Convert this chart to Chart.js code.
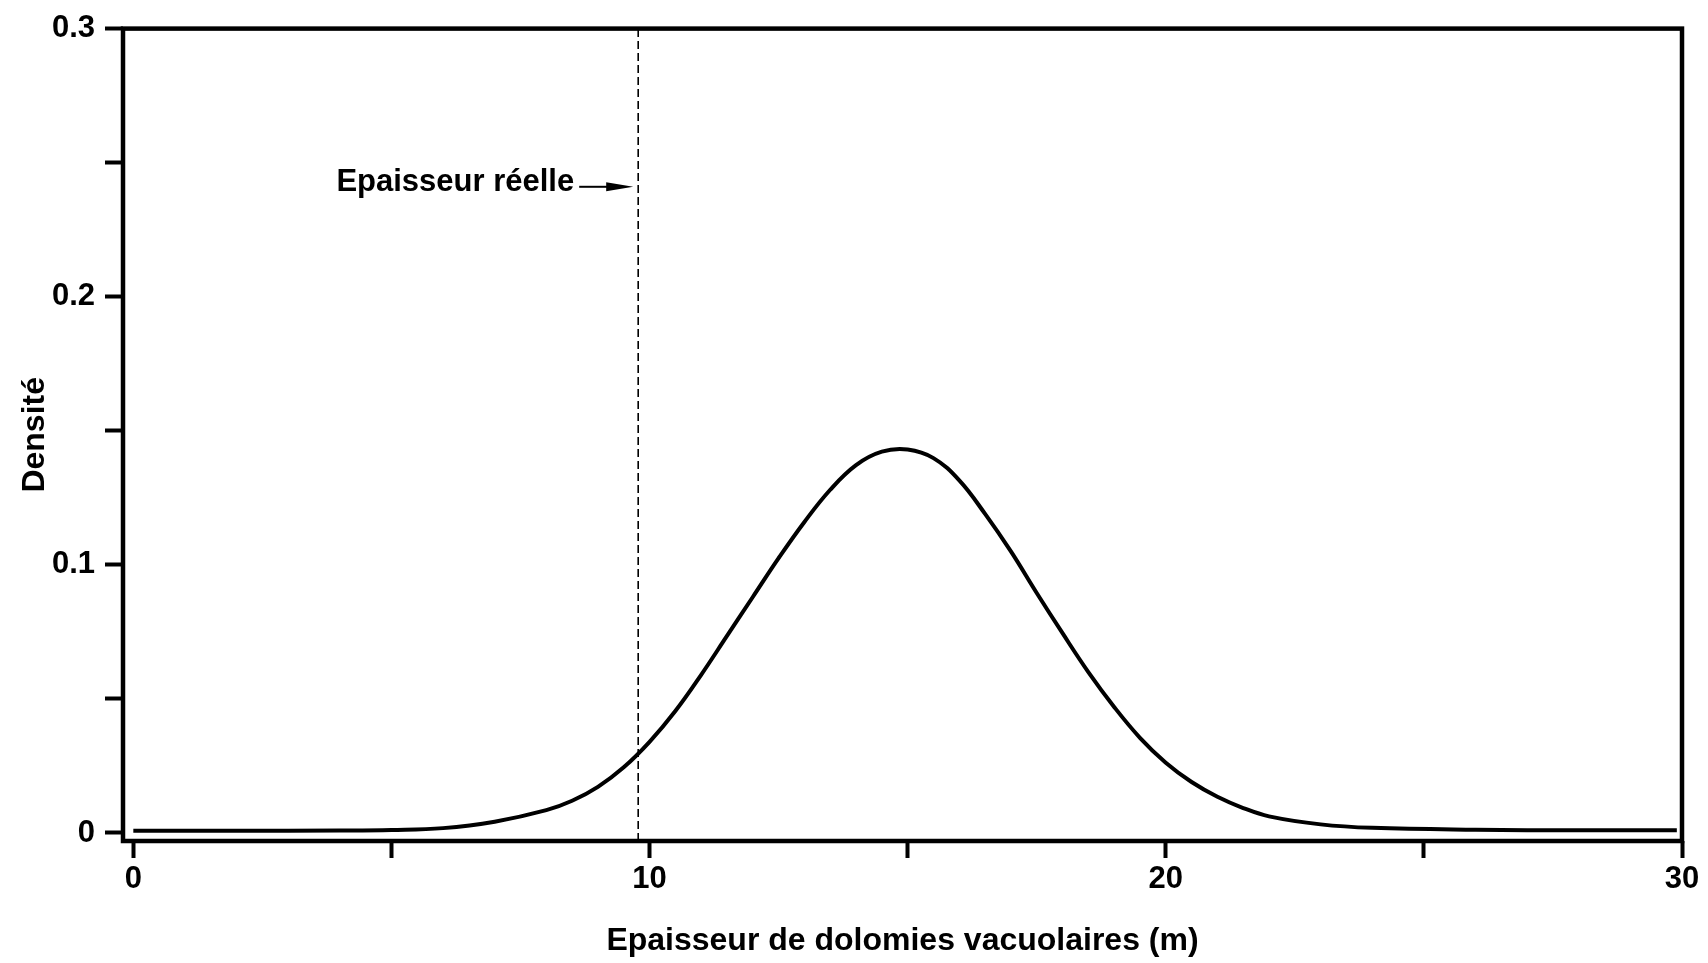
<!DOCTYPE html>
<html lang="fr">
<head>
<meta charset="utf-8">
<title>Densité</title>
<script src="https://cdn.jsdelivr.net/npm/chart.js@4.4.1/dist/chart.umd.min.js"></script>
<style>
    html, body { margin: 0; padding: 0; background: #fff; }
    #wrap { width: 1708px; height: 963px; }
</style>
</head>
<body>
<div id="wrap"><canvas id="density-chart" width="1708" height="963"></canvas></div>
<script>
// Density curve
const thickness = [0, 2, 4, 5, 6, 7, 8, 8.5, 9, 9.5, 10, 10.5, 11, 11.5, 12, 12.5, 13, 13.5, 14, 14.5,
                   15, 15.5, 16, 16.5, 17, 17.5, 18, 18.5, 19, 19.5, 20, 20.5, 21, 21.5, 22, 23, 24, 26, 28, 29.9];
const density = [0.0008, 0.0008, 0.0009, 0.0011, 0.0018, 0.0042, 0.0085, 0.0120, 0.0172, 0.0245, 0.0340, 0.0455, 0.0590, 0.0735, 0.0880, 0.1025, 0.1160, 0.1280, 0.1372, 0.1422,
                 0.1430, 0.1398, 0.1315, 0.1190, 0.1050, 0.0895, 0.0745, 0.0600, 0.0470, 0.0355, 0.0262, 0.0190, 0.0135, 0.0093, 0.0062, 0.0032, 0.0019, 0.0012, 0.0010, 0.0010];

// Axis ticks
const xTickValues = [0, 5, 10, 15, 20, 25, 30];
const xTickLabels = ['0', '', '10', '', '20', '', '30'];
const yTickValues = [0, 0.05, 0.1, 0.15, 0.2, 0.25, 0.3];
const yTickLabels = ['0', '', '0.1', '', '0.2', '', '0.3'];

// Real thickness marker
const markerX = 9.78;
const markerLabel = 'Epaisseur réelle';
const markerLabelY = 0.241;

const FONT = "'Liberation Sans', Arial, Helvetica, sans-serif";

// Draws the box round the plot and the annotation arrow
const framePlugin = {
    id: 'frame',
    afterDatasetsDraw(chart) {
        const ctx = chart.ctx;
        const area = chart.chartArea;
        const xScale = chart.scales.x;
        const yScale = chart.scales.y;

        ctx.save();
        ctx.strokeStyle = '#000';
        ctx.lineWidth = 4.5;
        ctx.strokeRect(area.left, area.top, area.right - area.left, area.bottom - area.top);

        // label + arrow pointing at the dashed line
        const lx = xScale.getPixelForValue(markerX);
        const ly = yScale.getPixelForValue(markerLabelY);
        ctx.fillStyle = '#000';
        ctx.font = 'bold 31px ' + FONT;
        ctx.textAlign = 'right';
        ctx.textBaseline = 'alphabetic';
        ctx.fillText(markerLabel, lx - 64, ly + 4);

        ctx.lineWidth = 2;
        ctx.beginPath();
        ctx.moveTo(lx - 59, ly);
        ctx.lineTo(lx - 30, ly);
        ctx.stroke();
        ctx.beginPath();
        ctx.moveTo(lx - 32, ly - 4.5);
        ctx.lineTo(lx - 5, ly);
        ctx.lineTo(lx - 32, ly + 4.5);
        ctx.closePath();
        ctx.fill();
        ctx.restore();
    }
};

function buildChart() {
    const ctx = document.getElementById('density-chart');
    const curve = thickness.map((x, i) => ({ x: x, y: density[i] }));
    const marker = [{ x: markerX, y: -0.003 }, { x: markerX, y: 0.3 }];

    new Chart(ctx, {
        type: 'line',
        data: {
            datasets: [
                {
                    label: 'Densité',
                    data: curve,
                    borderColor: '#000',
                    borderWidth: 4,
                    pointRadius: 0,
                    tension: 0.4,
                    fill: false
                },
                {
                    label: markerLabel,
                    data: marker,
                    borderColor: '#000',
                    borderWidth: 1.6,
                    borderDash: [8, 4],
                    pointRadius: 0,
                    fill: false
                }
            ]
        },
        options: {
            responsive: false,
            animation: false,
            events: [],
            layout: { padding: { top: 24, right: 26, bottom: 0, left: 0 } },
            plugins: {
                legend: { display: false },
                tooltip: { enabled: false }
            },
            scales: {
                x: {
                    type: 'linear',
                    min: -0.2,
                    max: 30,
                    afterBuildTicks: function(scale) {
                        scale.ticks = xTickValues.map(v => ({ value: v }));
                    },
                    afterFit: function(scale) {
                        scale.height = 122;
                    },
                    border: { display: false },
                    grid: {
                        drawOnChartArea: false,
                        drawTicks: true,
                        tickLength: 17,
                        tickWidth: 4,
                        tickColor: '#000'
                    },
                    ticks: {
                        autoSkip: false,
                        maxRotation: 0,
                        padding: 3,
                        color: '#000',
                        font: { family: FONT, size: 31, weight: 'bold' },
                        callback: function(value, index) {
                            return xTickLabels[index];
                        }
                    },
                    title: {
                        display: true,
                        text: 'Epaisseur de dolomies vacuolaires (m)',
                        color: '#000',
                        font: { family: FONT, size: 32, weight: 'bold' },
                        padding: { top: 0, bottom: 3 }
                    }
                },
                y: {
                    type: 'linear',
                    min: -0.003,
                    max: 0.3,
                    afterBuildTicks: function(scale) {
                        scale.ticks = yTickValues.map(v => ({ value: v }));
                    },
                    afterFit: function(scale) {
                        scale.width = 123;
                    },
                    border: { display: false },
                    grid: {
                        drawOnChartArea: false,
                        drawTicks: true,
                        tickLength: 18,
                        tickWidth: 4,
                        tickColor: '#000'
                    },
                    ticks: {
                        autoSkip: false,
                        padding: 10,
                        color: '#000',
                        font: { family: FONT, size: 31, weight: 'bold' },
                        callback: function(value, index) {
                            return yTickLabels[index];
                        }
                    },
                    title: {
                        display: true,
                        text: 'Densité',
                        color: '#000',
                        font: { family: FONT, size: 32, weight: 'bold' },
                        padding: { top: 16, bottom: 0 }
                    }
                }
            }
        },
        plugins: [framePlugin]
    });
}

buildChart();
</script>
</body>
</html>
